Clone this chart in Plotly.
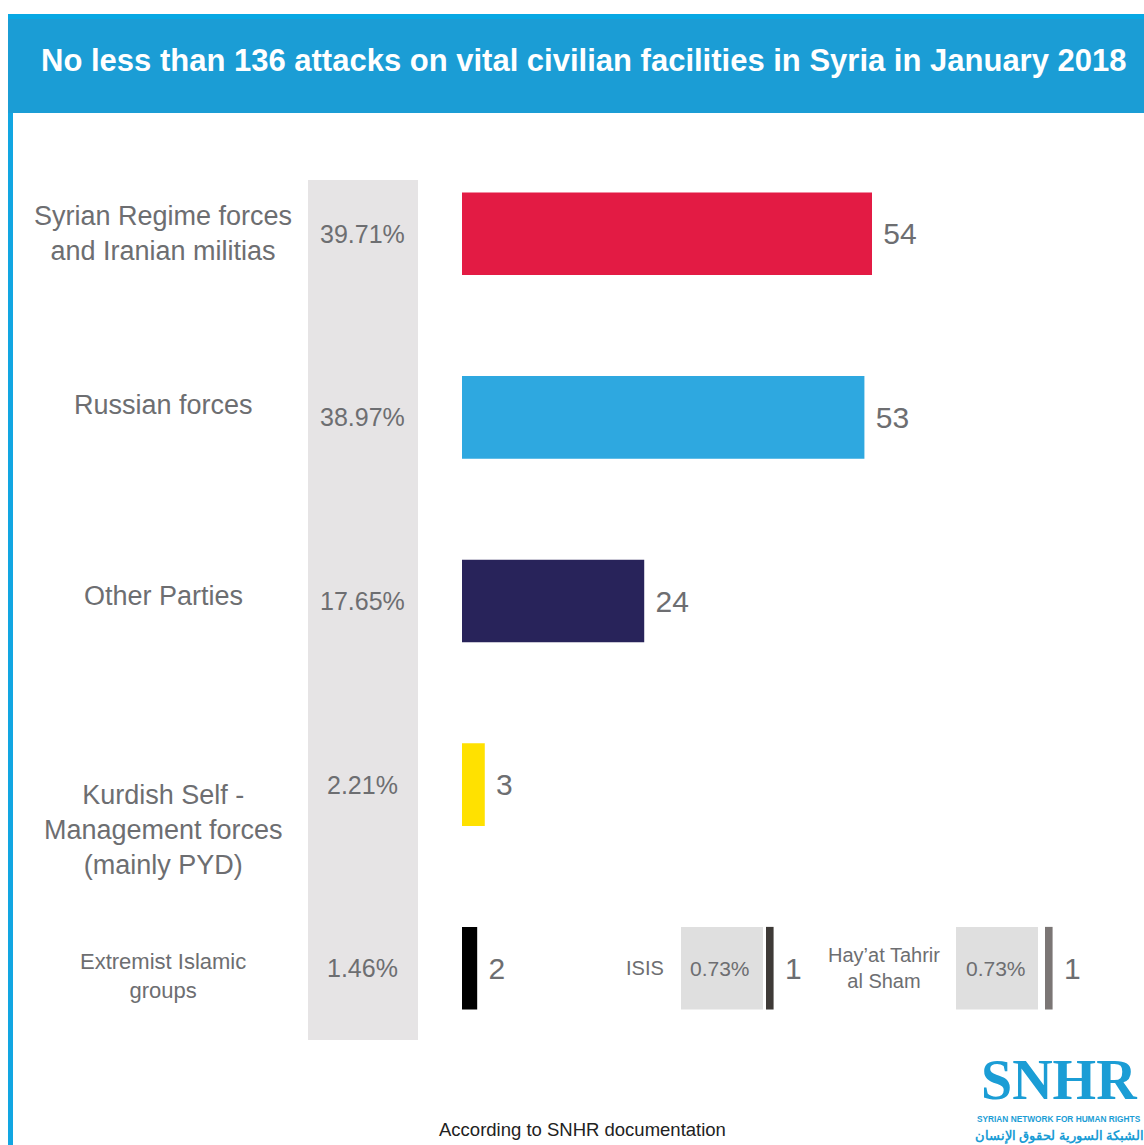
import plotly.graph_objects as go

# ---------------- data ----------------
categories = [
    "Syrian Regime forces and Iranian militias",
    "Russian forces",
    "Other Parties",
    "Kurdish Self - Management forces (mainly PYD)",
    "Extremist Islamic groups",
]
category_labels = [
    "Syrian Regime forces<br>and Iranian militias",
    "Russian forces",
    "Other Parties",
    "Kurdish Self -<br>Management forces<br>(mainly PYD)",
    "Extremist Islamic<br>groups",
]
attacks = [54, 53, 24, 3, 2]
percentages = ["39.71%", "38.97%", "17.65%", "2.21%", "1.46%"]

sub_groups = ["ISIS", "Hay’at Tahrir<br>al Sham"]
sub_attacks = [1, 1]
sub_percentages = ["0.73%", "0.73%"]

title_text = "No less than 136 attacks on vital civilian facilities in Syria in January 2018"
footer_text = "According to SNHR documentation"

# ---------------- styles ----------------
W, H = 1144, 1145
bar_colors = ["#e31b44", "#2ea8e0", "#28235a", "#ffe100", "#000000"]
sub_colors = ["#3e3a37", "#7b7675"]
TXT = "#6d6e71"
FONT = "Liberation Sans"
BLUE = "#1b9dd5"


def px(x):
    return x / W


def py(y):
    return 1 - y / H


k = 410 / 54  # pixels per attack
x0_main, x0_isis, x0_hts = 462, 766, 1045
BW = 0.45

fig = go.Figure()

fig.add_trace(go.Bar(
    x=attacks, y=categories, orientation="h",
    marker=dict(color=bar_colors, line=dict(width=0)),
    width=BW,
    text=attacks, texttemplate=" %{x}", textposition="outside",
    textfont=dict(family=FONT, size=30, color=TXT),
    constraintext="none", cliponaxis=False,
    xaxis="x", yaxis="y", hoverinfo="skip",
))
for i, (xa, c) in enumerate(zip(["x2", "x3"], sub_colors)):
    fig.add_trace(go.Bar(
        x=[sub_attacks[i]], y=[categories[-1]], orientation="h",
        marker=dict(color=c, line=dict(width=0)),
        width=BW,
        text=[sub_attacks[i]], texttemplate=" %{x}", textposition="outside",
        textfont=dict(family=FONT, size=30, color=TXT),
        constraintext="none", cliponaxis=False,
        xaxis=xa, yaxis="y", hoverinfo="skip",
    ))

last = len(categories) - 1
shapes = [
    # title band
    dict(type="rect", xref="paper", yref="paper", x0=px(8), x1=px(W), y0=py(113), y1=py(14),
         fillcolor=BLUE, line=dict(width=0), layer="below"),
    dict(type="rect", xref="paper", yref="paper", x0=px(8), x1=px(W), y0=py(19), y1=py(14),
         fillcolor="#08a8e4", line=dict(width=0), layer="below"),
    # left border
    dict(type="rect", xref="paper", yref="paper", x0=px(8), x1=px(13), y0=py(H), y1=py(113),
         fillcolor="#12a6e2", line=dict(width=0), layer="below"),
    # percentage column
    dict(type="rect", xref="paper", yref="paper", x0=px(308), x1=px(418), y0=py(1040), y1=py(180),
         fillcolor="#e6e4e5", line=dict(width=0), layer="below"),
    # sub-group percentage boxes
    dict(type="rect", xref="paper", yref="y", x0=px(681), x1=px(763), y0=last - BW / 2, y1=last + BW / 2,
         fillcolor="#dfdfdf", line=dict(width=0), layer="below"),
    dict(type="rect", xref="paper", yref="y", x0=px(956), x1=px(1038), y0=last - BW / 2, y1=last + BW / 2,
         fillcolor="#dfdfdf", line=dict(width=0), layer="below"),
]

annotations = [
    dict(text="<b>" + title_text + "</b>", xref="paper", yref="paper", x=px(584), y=py(60),
         showarrow=False, font=dict(family=FONT, size=31, color="white"), xanchor="center", yanchor="middle"),
    dict(text=footer_text, xref="paper", yref="paper", x=px(582), y=py(1129),
         showarrow=False, font=dict(family=FONT, size=18.5, color="#222222"), xanchor="center", yanchor="middle"),
    # logo
    dict(text="<b>SNHR</b>", xref="paper", yref="paper", x=px(1059), y=py(1080),
         showarrow=False, font=dict(family="Liberation Serif", size=56, color=BLUE), xanchor="center", yanchor="middle"),
    dict(text="<b>SYRIAN NETWORK FOR HUMAN RIGHTS</b>", xref="paper", yref="paper", x=px(1059), y=py(1119),
         showarrow=False, font=dict(family=FONT, size=8.3, color=BLUE), xanchor="center", yanchor="middle"),
    dict(text="<b>الشبكة السورية لحقوق الإنسان</b>", xref="paper", yref="paper", x=px(1059), y=py(1135),
         showarrow=False, font=dict(family="Noto Sans", size=12.5, color=BLUE), xanchor="center", yanchor="middle"),
]

label_sizes = [27, 27, 27, 27, 22]
label_yshift = [0, 12, 5, -45, -8]
for i, cat in enumerate(categories):
    annotations.append(dict(
        text=category_labels[i], xref="paper", yref="y", x=px(163), y=cat, yshift=label_yshift[i],
        showarrow=False, align="center", xanchor="center", yanchor="middle",
        font=dict(family=FONT, size=label_sizes[i], color=TXT)))
    annotations.append(dict(
        text=percentages[i], xref="paper", yref="y", x=px(362), y=cat,
        showarrow=False, xanchor="center", yanchor="middle",
        font=dict(family=FONT, size=25, color=TXT)))

sub_label_x = [645, 884]
sub_pct_x = [720, 996]
for i in range(len(sub_groups)):
    annotations.append(dict(
        text=sub_groups[i], xref="paper", yref="y", x=px(sub_label_x[i]), y=categories[-1],
        showarrow=False, align="center", xanchor="center", yanchor="middle",
        font=dict(family=FONT, size=20, color=TXT)))
    annotations.append(dict(
        text=sub_percentages[i], xref="paper", yref="y", x=px(sub_pct_x[i]), y=categories[-1],
        showarrow=False, xanchor="center", yanchor="middle",
        font=dict(family=FONT, size=21, color=TXT)))

fig.update_layout(
    width=W, height=H, autosize=False,
    margin=dict(l=0, r=0, t=0, b=0, pad=0),
    paper_bgcolor="white", plot_bgcolor="rgba(0,0,0,0)",
    showlegend=False, barmode="overlay",
    shapes=shapes, annotations=annotations,
    xaxis=dict(domain=[px(x0_main), 1], range=[0, (W - x0_main) / k], visible=False, anchor="y", fixedrange=True),
    xaxis2=dict(domain=[px(x0_isis), 1], range=[0, (W - x0_isis) / k], visible=False, anchor="y", fixedrange=True),
    xaxis3=dict(domain=[px(x0_hts), 1], range=[0, (W - x0_hts) / k], visible=False, anchor="y", fixedrange=True),
    yaxis=dict(type="category", categoryorder="array", categoryarray=categories,
               range=[4.5, -0.5], domain=[py(1060), py(142)], visible=False, fixedrange=True),
)

fig.write_html("out.html")
